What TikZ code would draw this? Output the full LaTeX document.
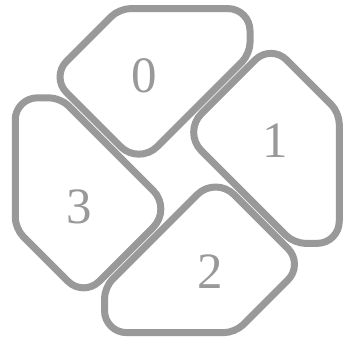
\documentclass[tikz,border=0pt]{standalone}
\usepackage{fontspec}
\setmainfont{Liberation Serif}
\usetikzlibrary{calc}
\definecolor{petal}{HTML}{999999}
\tikzset{
  leaf/.style={draw=petal, line width=7pt},
  num/.style={text=petal, font=\fontsize{51}{51}\selectfont, inner sep=0pt}
}

\begin{document}
\begin{tikzpicture}[x=1pt, y=1pt]
	\useasboundingbox (0,0) rectangle (356,340);
	% four leaves, each turned a quarter further
	\foreach \k in {0,1,2,3} {
		\begin{scope}[shift={(177.25,169.4)}, rotate=-90*\k]
		\coordinate (a\k) at (-58,162);
		\coordinate (b\k) at (72.75,162);
		\coordinate (c\k) at (72.75,116.75);
		\coordinate (d\k) at (-38.35,5.65);
		\coordinate (e\k) at (-126.35,93.65);
		\draw[leaf] ($(a\k)!0.5!(b\k)$) [rounded corners=22pt] -- (b\k)
			[rounded corners=11pt] -- (c\k) [rounded corners=26pt] -- (d\k)
			[rounded corners=22pt] -- (e\k) [rounded corners=11pt] -- (a\k)
			[sharp corners] -- cycle;
		\end{scope}
		\begin{scope}[shift={(177.3,166.2)}, rotate=-90*\k]
		\node[num] (n\k) at (-33.3,97.8) {\k};
		\end{scope}
	}
\end{tikzpicture}
\end{document}
